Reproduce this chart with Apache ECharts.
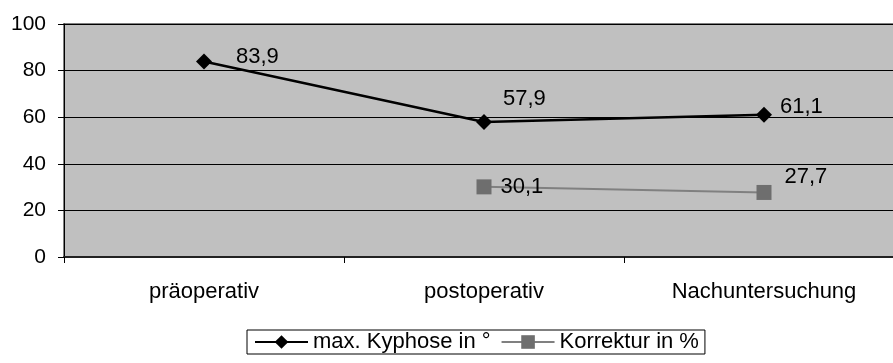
<!DOCTYPE html>
<html>
<head>
<meta charset="utf-8">
<script src="https://cdn.jsdelivr.net/npm/echarts@6/dist/echarts.min.js"></script>
<style>
html,body{margin:0;padding:0;background:#fff;overflow:hidden;}
#chart{width:893px;height:363px;}
</style>
</head>
<body>
<div id="chart"></div>
<script>
// Kyphosis angle before/after surgery and correction percentage
const categories = ['präoperativ', 'postoperativ', 'Nachuntersuchung'];
const kyphose = [83.9, 57.9, 61.1];
const korrektur = [null, 30.1, 27.7];
const yTicks = [0, 20, 40, 60, 80, 100];

const fmt = v => String(v).replace('.', ',');
const font = 'Liberation Sans, Arial, sans-serif';

// per-point label nudges (dx, dy) for each series
const kyphoseNudge = [[24, -5], [11, -23], [8, -8]];
const korrekturNudge = [null, [9, 0], [13, -16]];

function withLabels(values, nudges) {
  return values.map((v, i) => v == null ? null : {
    value: v,
    label: { show: true, position: 'right', distance: 0, offset: nudges[i],
      formatter: p => fmt(p.value), color: '#000', fontSize: 22, fontFamily: font }
  });
}

const chart = echarts.init(document.getElementById('chart'), null, { renderer: 'canvas' });
chart.setOption({
  animation: false,
  grid: { left: 64, width: 840, top: 24, height: 233, show: true, outerBoundsMode: 'none',
    backgroundColor: '#C0C0C0', borderColor: '#808080', borderWidth: 2 },
  legend: {
    top: 330, left: 247,
    data: ['max. Kyphose in °', 'Korrektur in %'],
    borderColor: '#000', borderWidth: 1, borderRadius: 0,
    padding: [1, 6, 1, 7], itemGap: 10, itemWidth: 53, itemHeight: 17,
    textStyle: { color: '#000', fontSize: 22, fontFamily: font, padding: [0, 0, 0, 0] }
  },
  xAxis: {
    type: 'category', data: categories, boundaryGap: true,
    axisLine: { lineStyle: { color: '#222', width: 2 } },
    axisTick: { show: true, alignWithLabel: false, length: 6, lineStyle: { color: '#000' } },
    axisLabel: { color: '#000', fontSize: 22, fontFamily: font, margin: 24 },
    splitLine: { show: false }
  },
  yAxis: {
    type: 'value', min: yTicks[0], max: yTicks[yTicks.length - 1], interval: 20,
    axisLine: { show: true, lineStyle: { color: '#000', width: 1 } },
    axisTick: { show: true, length: 6, lineStyle: { color: '#000' } },
    axisLabel: { color: '#000', fontSize: 21, fontFamily: font, margin: 18 },
    splitLine: { show: true, lineStyle: { color: '#000', width: 1 } }
  },
  series: [
    {
      name: 'max. Kyphose in °', type: 'line', data: withLabels(kyphose, kyphoseNudge),
      symbol: 'diamond', symbolSize: 16, showAllSymbol: true,
      lineStyle: { color: '#000', width: 2.5 },
      itemStyle: { color: '#000' }, z: 3
    },
    {
      name: 'Korrektur in %', type: 'line', data: withLabels(korrektur, korrekturNudge),
      symbol: 'rect', symbolSize: 15, showAllSymbol: true,
      lineStyle: { color: '#808080', width: 2 },
      itemStyle: { color: '#6E6E6E' }, z: 2
    }
  ]
});
</script>
</body>
</html>
